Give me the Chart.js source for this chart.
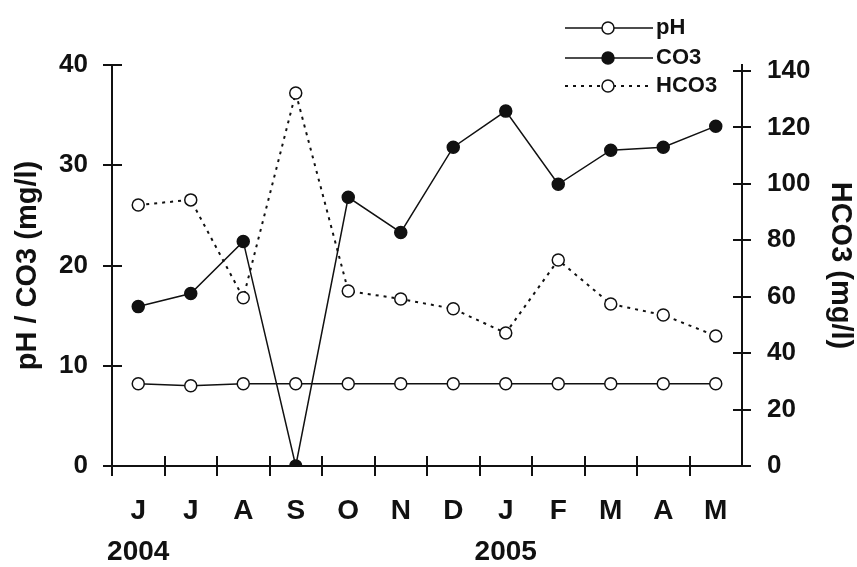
<!DOCTYPE html>
<html>
<head>
<meta charset="utf-8">
<script src="https://cdn.jsdelivr.net/npm/chart.js@4.4.1/dist/chart.umd.min.js"></script>
<style>
  html, body { margin: 0; padding: 0; background: #fff; }
  #wrap { width: 857px; height: 567px; }
</style>
</head>
<body>
<div id="wrap"><canvas id="chart"></canvas></div>
<script>
const months = ['J', 'J', 'A', 'S', 'O', 'N', 'D', 'J', 'F', 'M', 'A', 'M'];
const years = ['2004', '', '', '', '', '', '', '2005', '', '', '', ''];

const ph = [8.2, 8.0, 8.2, 8.2, 8.2, 8.2, 8.2, 8.2, 8.2, 8.2, 8.2, 8.2];
const co3 = [15.9, 17.2, 22.4, 0, 26.8, 23.3, 31.8, 35.4, 28.1, 31.5, 31.8, 33.9];
const hco3 = [92.5, 94.3, 59.6, 132.2, 62.0, 59.2, 55.7, 47.1, 73.0, 57.4, 53.5, 46.1];

const leftTicks = [0, 10, 20, 30, 40];
const rightTicks = [0, 20, 40, 60, 80, 100, 120, 140];

const FONT = "'Liberation Sans', Arial, sans-serif";
const INK = '#111';

// axis ticks cross the axis line, so they are drawn here on both sides
const crossTicks = {
  id: 'crossTicks',
  afterDraw(chart) {
    const { ctx, scales: { x, y, y1 } } = chart;
    ctx.save();
    ctx.strokeStyle = INK;
    ctx.lineWidth = 2;
    ctx.beginPath();
    for (let i = 0; i < months.length; i++) {
      const px = Math.round(x.getPixelForValue(i - 0.5));
      ctx.moveTo(px, x.top - 10);
      ctx.lineTo(px, x.top + 10);
    }
    y.ticks.forEach(t => {
      const py = Math.round(y.getPixelForValue(t.value));
      ctx.moveTo(y.right - 9, py);
      ctx.lineTo(y.right + 10, py);
    });
    y1.ticks.forEach(t => {
      const py = Math.round(y1.getPixelForValue(t.value));
      ctx.moveTo(y1.left - 9, py);
      ctx.lineTo(y1.left + 9, py);
    });
    ctx.stroke();
    ctx.restore();
  }
};

// vertical legend in the top right corner, line with the marker in the middle
const sideLegend = {
  id: 'sideLegend',
  afterDraw(chart) {
    const ctx = chart.ctx;
    const rows = [28, 58, 86];
    chart.data.datasets.forEach((ds, i) => {
      const yy = rows[i];
      ctx.save();
      ctx.strokeStyle = ds.borderColor;
      ctx.lineWidth = ds.borderWidth;
      ctx.setLineDash(ds.borderDash || []);
      ctx.beginPath();
      ctx.moveTo(565, yy);
      ctx.lineTo(653, yy);
      ctx.stroke();
      ctx.setLineDash([]);
      ctx.beginPath();
      ctx.arc(608, yy, 6, 0, Math.PI * 2);
      ctx.fillStyle = ds.pointBackgroundColor;
      ctx.fill();
      ctx.lineWidth = ds.pointBorderWidth;
      ctx.strokeStyle = ds.pointBorderColor;
      ctx.stroke();
      ctx.fillStyle = INK;
      ctx.font = 'bold 22px ' + FONT;
      ctx.textBaseline = 'middle';
      ctx.fillText(ds.label, 656, yy);
      ctx.restore();
    });
  }
};

new Chart(document.getElementById('chart'), {
  type: 'line',
  data: {
    labels: months,
    datasets: [
      {
        label: 'pH',
        data: ph,
        yAxisID: 'y',
        borderColor: INK,
        borderWidth: 1.5,
        pointRadius: 6,
        pointBorderWidth: 1.5,
        pointBorderColor: INK,
        pointBackgroundColor: '#fff'
      },
      {
        label: 'CO3',
        data: co3,
        yAxisID: 'y',
        borderColor: INK,
        borderWidth: 1.5,
        pointRadius: 6,
        pointBorderWidth: 1.5,
        pointBorderColor: INK,
        pointBackgroundColor: INK
      },
      {
        label: 'HCO3',
        data: hco3,
        yAxisID: 'y1',
        borderColor: INK,
        borderWidth: 2,
        borderDash: [3, 5],
        pointRadius: 6,
        pointBorderWidth: 1.5,
        pointBorderColor: INK,
        pointBackgroundColor: '#fff'
      }
    ]
  },
  options: {
    responsive: true,
    maintainAspectRatio: false,
    animation: false,
    layout: { padding: { top: 65, left: 0, right: 0, bottom: 0 } },
    plugins: {
      legend: { display: false },
      tooltip: { enabled: false }
    },
    scales: {
      x: {
        offset: true,
        grid: { display: false, drawTicks: false },
        border: { display: true, color: INK, width: 2 },
        ticks: {
          color: INK,
          autoSkip: false,
          maxRotation: 0,
          minRotation: 0,
          padding: 25,
          font: { family: FONT, size: 28, weight: 'bold', lineHeight: 1.464 },
          callback: (v, i) => years[i] ? [months[i], years[i]] : months[i]
        },
        afterFit: s => { s.height = 101; }
      },
      y: {
        position: 'left',
        min: 0,
        max: 40,
        grid: { display: false, drawTicks: false },
        border: { display: true, color: INK, width: 2 },
        afterBuildTicks: s => { s.ticks = leftTicks.map(v => ({ value: v })); },
        ticks: {
          color: INK,
          padding: 24,
          font: { family: FONT, size: 26, weight: 'bold' }
        },
        title: {
          display: true,
          text: 'pH / CO3 (mg/l)',
          color: INK,
          padding: { top: 11, bottom: 0 },
          font: { family: FONT, size: 29, weight: 'bold' }
        },
        afterFit: s => { s.width = 112; }
      },
      y1: {
        position: 'right',
        min: 0,
        max: 142.1,
        grid: { display: false, drawTicks: false },
        border: { display: true, color: INK, width: 2 },
        afterBuildTicks: s => { s.ticks = rightTicks.map(v => ({ value: v })); },
        ticks: {
          color: INK,
          padding: 25,
          font: { family: FONT, size: 26, weight: 'bold' }
        },
        title: {
          display: true,
          text: 'HCO3 (mg/l)',
          color: INK,
          padding: { top: 0, bottom: 0 },
          font: { family: FONT, size: 29, weight: 'bold' }
        },
        afterFit: s => { s.width = 115; }
      }
    }
  },
  plugins: [crossTicks, sideLegend]
});
</script>
</body>
</html>
